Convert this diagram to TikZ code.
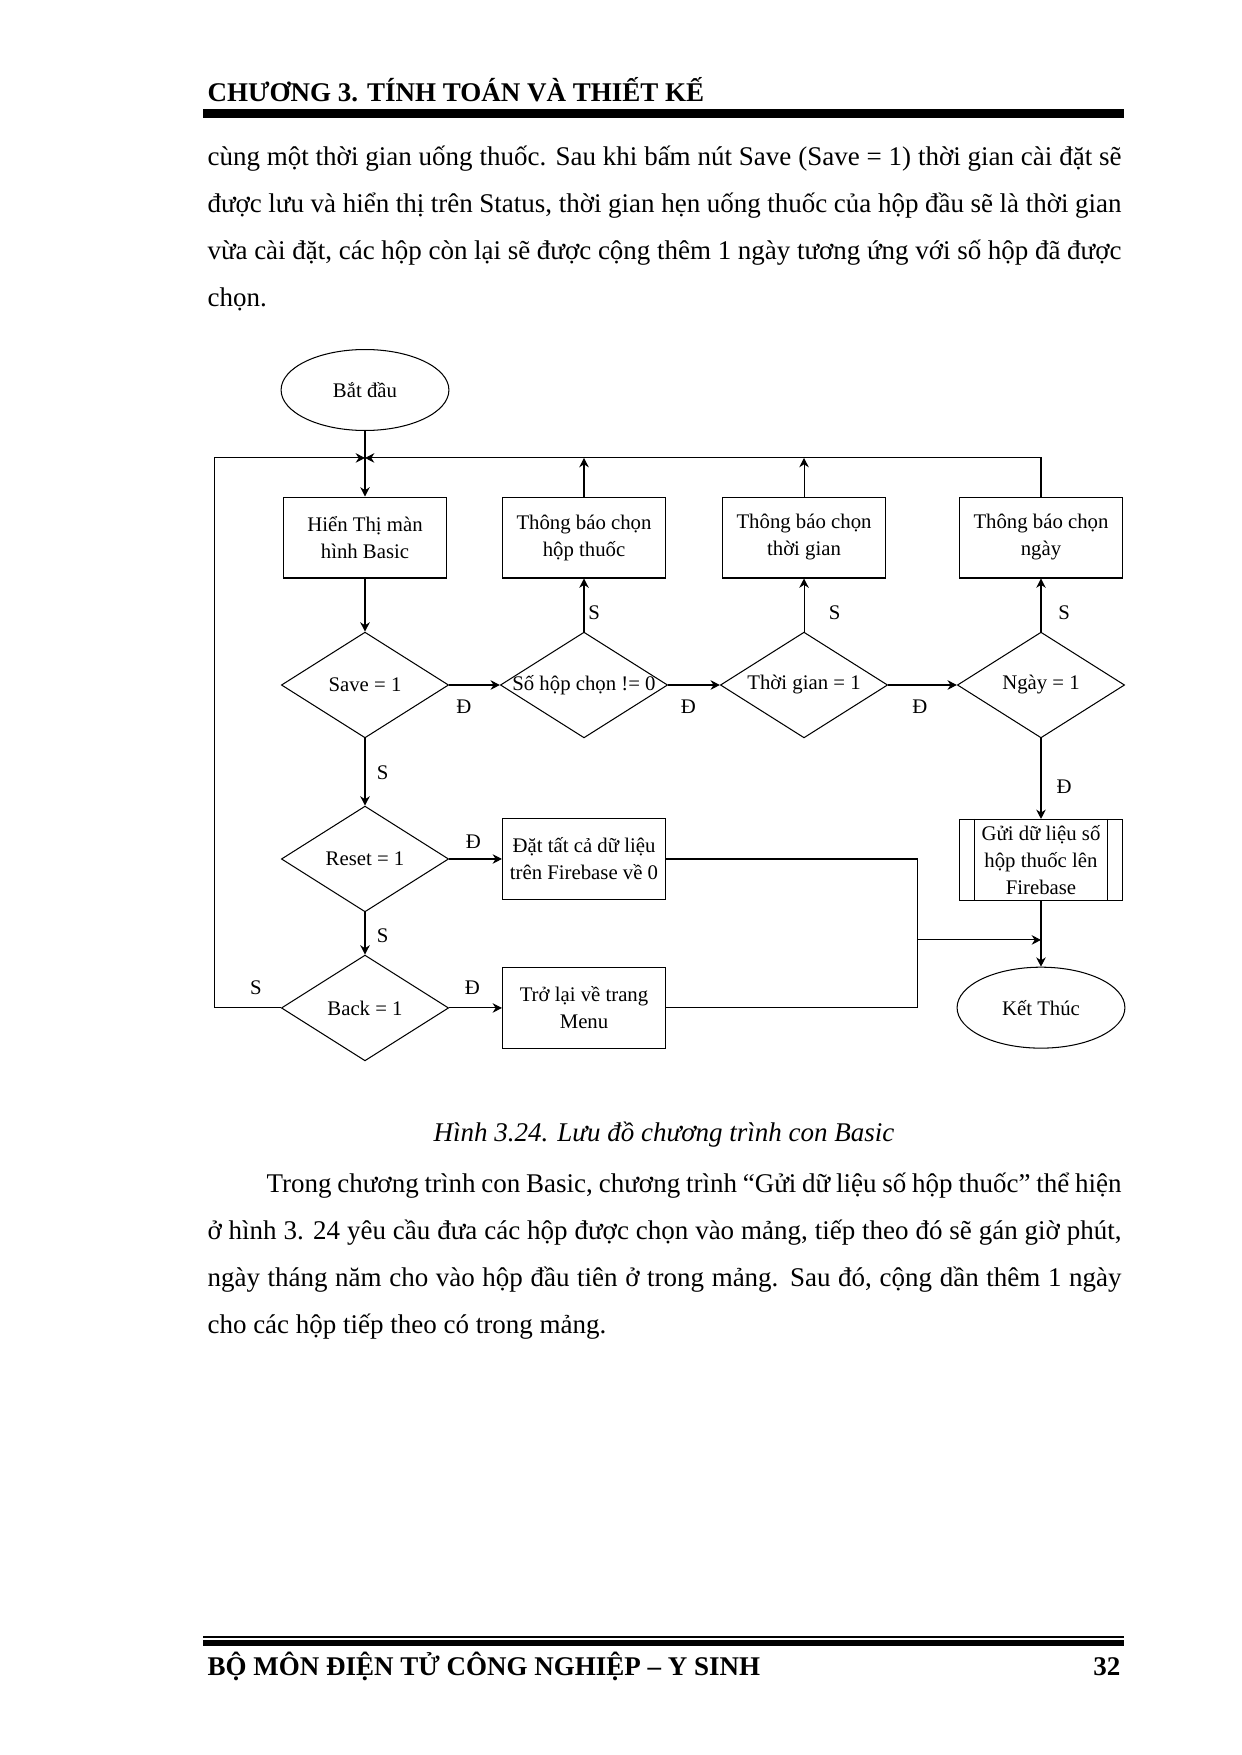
\documentclass[tikz,border=0pt]{standalone}
\usepackage{fontspec}
\setmainfont{Liberation Serif}
\usetikzlibrary{shapes.geometric,positioning,arrows.meta}
\tikzset{flowchart/.style={on grid,x=0.16922mm,y=-0.16922mm}}
\tikzset{every node/.style={font=\fontsize{10}{13}\selectfont}}
\tikzset{terminal/.style={ellipse,draw,minimum width=28.4mm,minimum height=13.7mm,inner sep=1pt}}
\tikzset{process/.style={rectangle,draw,minimum width=27.6mm,minimum height=13.7mm,inner sep=1pt,align=center}}
\tikzset{decision/.style={diamond,draw,minimum width=28.3mm,minimum height=17.9mm,inner sep=0pt,
  execute at begin node={\hbox to 0pt\bgroup\hss},execute at end node={\hss\egroup}}}
\tikzset{transition/.style={-{Stealth[length=4.5pt,width=4.6pt]}}}
\tikzset{lbl/.style={inner sep=0pt}}
\tikzset{pagetext/.style={anchor=base west,inner sep=0pt,font=\fontsize{13}{15}\selectfont}}
\newcommand{\jline}[2][154.67mm]{\makebox[#1][s]{#2}}

\begin{document}
\begin{tikzpicture}[flowchart,line width=0.5pt]
  \useasboundingbox (0,0) rectangle (1241,1755);
  % page header and text
  \node[pagetext,font=\bfseries\fontsize{13}{15}\selectfont] (head) at (207,102) {CHƯƠNG 3. TÍNH TOÁN VÀ THIẾT KẾ};
  \fill (203,109) rectangle (1124,118);
  \node[pagetext] (l1) at (207,166) {\jline{cùng một thời gian uống thuốc. Sau khi bấm nút Save (Save = 1) thời gian cài đặt sẽ}};
  \node[pagetext] (l2) at (207,213) {\jline{được lưu và hiển thị trên Status, thời gian hẹn uống thuốc của hộp đầu sẽ là thời gian}};
  \node[pagetext] (l3) at (207,260) {\jline{vừa cài đặt, các hộp còn lại sẽ được cộng thêm 1 ngày tương ứng với số hộp đã được}};
  \node[pagetext] (l4) at (207,307) {chọn.};

  % flowchart
  \node[terminal] (start) at (365,390) {Bắt đầu};
  \coordinate[below=11.5mm of start] (jn);
  \node[process] (show) [below=24.96mm of start] {Hiển Thị màn\\hình Basic};
  \node[decision] (save) [below=24.96mm of show] {Save = 1};
  \node[decision] (sohop) [right=37.06mm of save] {Số hộp chọn != 0};
  \node[decision] (tgian) [right=37.23mm of sohop] {Thời gian = 1};
  \node[decision] (ngay) [right=40.1mm of tgian] {Ngày = 1};
  \node[process] (tbhop) [above=24.96mm of sohop] {Thông báo chọn\\hộp thuốc};
  \node[process] (tbtgian) [above=24.96mm of tgian] {Thông báo chọn\\thời gian};
  \node[process] (tbngay) [above=24.96mm of ngay] {Thông báo chọn\\ngày};
  \node[decision] (reset) [below=29.44mm of save] {Reset = 1};
  \node[decision] (back) [below=25.21mm of reset] {Back = 1};
  \node[process] (dat) [right=37.06mm of reset] {Đặt tất cả dữ liệu\\trên Firebase về 0};
  \node[process] (tro) [right=37.06mm of back] {Trở lại về trang\\Menu};
  \node[process,inner ysep=0pt] (gui) [below=29.6mm of ngay] {Gửi dữ liệu số\\hộp thuốc lên\\Firebase};
  \draw ([xshift=2.7mm]gui.north west) -- ([xshift=2.7mm]gui.south west)
        ([xshift=-2.7mm]gui.north east) -- ([xshift=-2.7mm]gui.south east);
  \node[terminal] (end) [below=25mm of gui] {Kết Thúc};

  \path[transition]
    (start) edge (show)
    (show) edge (save)
    (save) edge node[lbl,pos=.29,yshift=-3.7mm]{Đ} (sohop)
           edge node[lbl,pos=.51,xshift=3mm]{S} (reset)
    (sohop) edge node[lbl,pos=.39,yshift=-3.7mm]{Đ} (tgian)
            edge node[lbl,pos=.35,xshift=1.7mm]{S} (tbhop)
    (tgian) edge node[lbl,pos=.46,yshift=-3.7mm]{Đ} (ngay)
            edge node[lbl,pos=.35,xshift=5.2mm]{S} (tbtgian)
    (ngay) edge node[lbl,pos=.35,xshift=3.9mm]{S} (tbngay)
           edge node[lbl,pos=.6,xshift=3.9mm]{Đ} (gui)
    (reset) edge node[lbl,pos=.46,yshift=2.9mm]{Đ} (dat)
            edge node[lbl,pos=.55,xshift=3mm]{S} (back)
    (back) edge node[lbl,pos=.44,yshift=3.4mm]{Đ} (tro)
    (gui) edge (end);
  \draw[transition] (tbhop.north) -- (tbhop.north |- jn);
  \draw[transition] (tbtgian.north) -- (tbtgian.north |- jn);
  \draw[transition] (tbngay.north) |- (jn);
  \draw[transition] (back.west) -- node[lbl,pos=.38,yshift=3.4mm]{S} ++(-11.17mm,0) |- (jn);
  \coordinate[below right=13.7mm and 42.6mm of dat.east] (mg);
  \draw (dat.east) -| (mg) (tro.east) -| (mg);
  \draw[transition] (mg) -- (mg -| gui.south);

  % caption and text
  \node[anchor=base,inner sep=0pt,font=\itshape\fontsize{13}{15}\selectfont] (cap) at (664,1141) {Hình 3.24. Lưu đồ chương trình con Basic};
  \node[pagetext] (m1) at (266,1192) {\jline[144.68mm]{Trong chương trình con Basic, chương trình “Gửi dữ liệu số hộp thuốc” thể hiện}};
  \node[pagetext] (m2) at (207,1239) {\jline{ở hình 3. 24 yêu cầu đưa các hộp được chọn vào mảng, tiếp theo đó sẽ gán giờ phút,}};
  \node[pagetext] (m3) at (207,1286) {\jline{ngày tháng năm cho vào hộp đầu tiên ở trong mảng. Sau đó, cộng dần thêm 1 ngày}};
  \node[pagetext] (m4) at (207,1333) {cho các hộp tiếp theo có trong mảng.};

  % page footer
  \fill (203,1636) rectangle (1124,1638);
  \fill (203,1640) rectangle (1124,1646);
  \node[pagetext,font=\bfseries\fontsize{13}{15}\selectfont] (foot) at (207,1675) {BỘ MÔN ĐIỆN TỬ CÔNG NGHIỆP – Y SINH};
  \node[pagetext,anchor=base east,font=\bfseries\fontsize{13}{15}\selectfont] (page) at (1121,1675) {32};
\end{tikzpicture}
\end{document}
